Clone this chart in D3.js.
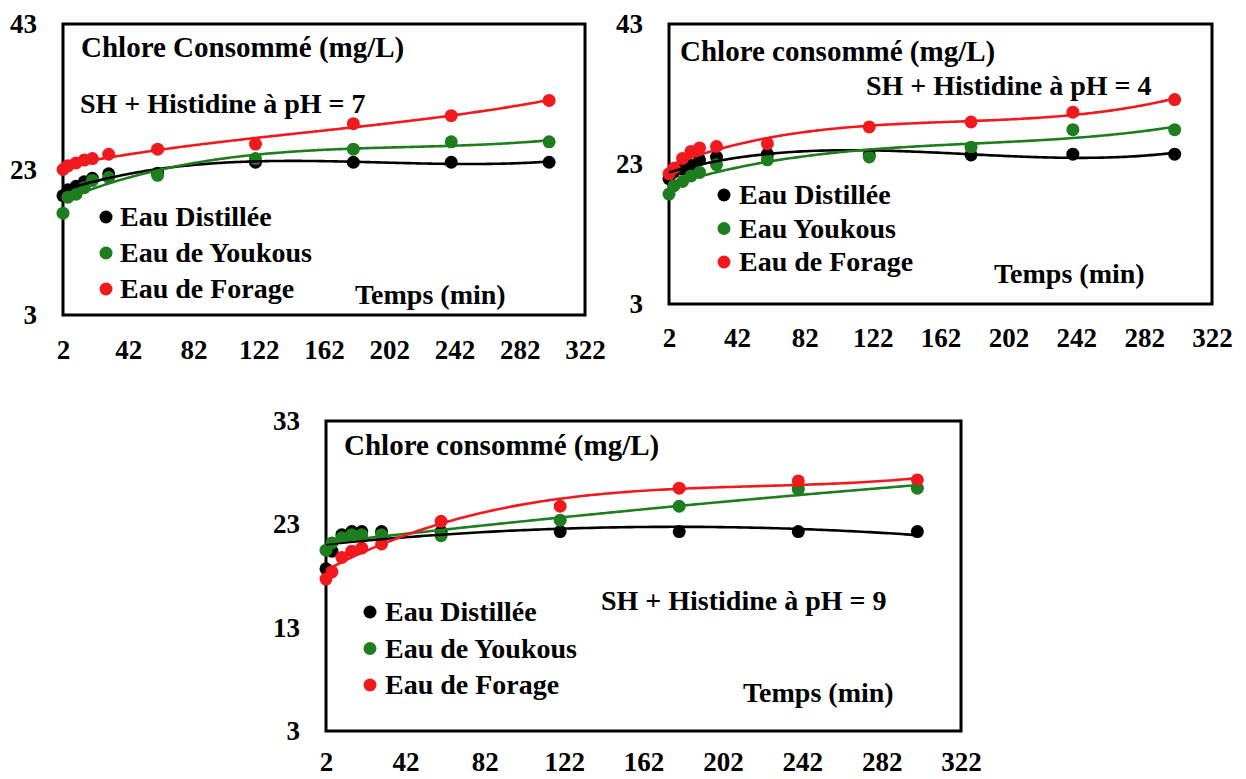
<!DOCTYPE html>
<html>
<head>
<meta charset="utf-8">
<script src="https://cdn.jsdelivr.net/npm/d3@7"></script>
<style>
body { margin: 0; background: #fff; }
svg text { font-family: "Liberation Serif", "Times New Roman", serif; font-weight: bold; fill: #000; }
.box { fill: none; stroke: #000; stroke-width: 3px; }
.trend { fill: none; stroke-width: 2.6px; }
</style>
</head>
<body>
<svg width="1246" height="779"></svg>
<script>

// time points (min)
var times = [2, 5, 10, 15, 20, 30, 60, 120, 180, 240, 300];

// chlore consommé (mg/L), pH = 7
var ph7Distillee = [19.4, 20.2, 20.7, 21.3, 21.8, 22.4, 22.5, 24.0, 24.0, 24.0, 24.0];
var ph7Youkous   = [17.0, 19.2, 19.6, 20.5, 21.5, 21.9, 22.2, 24.5, 25.8, 26.8, 26.8];
var ph7Forage    = [23.0, 23.5, 23.9, 24.3, 24.5, 25.1, 25.8, 26.5, 29.3, 30.4, 32.5];

// pH = 4
var ph4Distillee = [20.9, 21.9, 22.3, 22.8, 23.6, 24.0, 24.4, 24.3, 24.3, 24.4, 24.4];
var ph4Youkous   = [18.7, 19.9, 20.5, 21.3, 21.8, 22.9, 23.6, 24.0, 25.4, 27.9, 27.9];
var ph4Forage    = [21.6, 22.4, 23.8, 24.8, 25.3, 25.5, 25.9, 28.3, 29.0, 30.4, 32.2];

// pH = 9
var ph9Distillee = [18.7, 20.4, 22.0, 22.3, 22.3, 22.3, 22.3, 22.3, 22.3, 22.3, 22.3];
var ph9Youkous   = [20.5, 21.2, 21.7, 22.0, 22.0, 22.0, 21.9, 23.4, 24.75, 26.4, 26.5];
var ph9Forage    = [17.7, 18.4, 19.8, 20.4, 20.7, 21.1, 23.3, 24.75, 26.5, 27.2, 27.3];

var xTicks = [2, 42, 82, 122, 162, 202, 242, 282, 322];
var yTicksWide = [3, 23, 43];
var yTicksNarrow = [3, 13, 23, 33];

var colors = ["#000000", "#1e7d1e", "#f01a1e"];
var legend7 = ["Eau Distillée", "Eau de Youkous", "Eau de Forage"];
var legend4 = ["Eau Distillée", "Eau Youkous", "Eau de Forage"];
var legend9 = ["Eau Distillée", "Eau de Youkous", "Eau de Forage"];

var panels = [
  { series: [ph7Distillee, ph7Youkous, ph7Forage], legend: legend7, order: [3, 3, 3],
    title: "Chlore Consommé (mg/L)", sub: "SH + Histidine à pH = 7",
    x0: 63, x1: 585, y0: 24, y1: 315, yDomain: [3, 43], yTicks: yTicksWide, xPad: 25,
    titlePos: [81, 57], subPos: [80, 113], tempsPos: [355, 304],
    legDotX: 106, legTextX: 120, legY: [217, 253, 289] },
  { series: [ph4Distillee, ph4Youkous, ph4Forage], legend: legend4, order: [3, 3, 3],
    title: "Chlore consommé (mg/L)", sub: "SH + Histidine à pH = 4",
    x0: 669, x1: 1212, y0: 24, y1: 304, yDomain: [3, 43], yTicks: yTicksWide, xPad: 24,
    titlePos: [680, 61], subPos: [866, 95], tempsPos: [994, 283],
    legDotX: 724, legTextX: 739, legY: [195, 228.5, 262] },
  { series: [ph9Distillee, ph9Youkous, ph9Forage], legend: legend9, order: [2, 2, 3],
    title: "Chlore consommé (mg/L)", sub: "SH + Histidine à pH = 9",
    x0: 326, x1: 961, y0: 421, y1: 731, yDomain: [3, 33], yTicks: yTicksNarrow, xPad: 21,
    titlePos: [344, 455], subPos: [601, 610], tempsPos: [743, 702],
    legDotX: 370, legTextX: 385, legY: [612, 648.5, 685] }
];

// least squares polynomial trend line (like the spreadsheet trendline)
function polyFit(xs, ys, order) {
  var n = order + 1, A = [], b = [];
  for (var i = 0; i < n; i++) {
    A.push(new Array(n).fill(0)); b.push(0);
  }
  xs.forEach(function(xv, k) {
    var u = xv / 300;
    for (var i = 0; i < n; i++) {
      b[i] += Math.pow(u, i) * ys[k];
      for (var j = 0; j < n; j++) A[i][j] += Math.pow(u, i + j);
    }
  });
  for (var c = 0; c < n; c++) {
    var p = c;
    for (var r = c + 1; r < n; r++) if (Math.abs(A[r][c]) > Math.abs(A[p][c])) p = r;
    var t = A[c]; A[c] = A[p]; A[p] = t; t = b[c]; b[c] = b[p]; b[p] = t;
    for (var r2 = c + 1; r2 < n; r2++) {
      var f = A[r2][c] / A[c][c];
      for (var j2 = c; j2 < n; j2++) A[r2][j2] -= f * A[c][j2];
      b[r2] -= f * b[c];
    }
  }
  var coef = new Array(n).fill(0);
  for (var i2 = n - 1; i2 >= 0; i2--) {
    var s = b[i2];
    for (var j3 = i2 + 1; j3 < n; j3++) s -= A[i2][j3] * coef[j3];
    coef[i2] = s / A[i2][i2];
  }
  return function(xv) {
    var u = xv / 300, v = 0;
    for (var i = 0; i < n; i++) v += coef[i] * Math.pow(u, i);
    return v;
  };
}

var svg = d3.select("svg");
svg.append("rect").attr("width", 1246).attr("height", 779).attr("fill", "#fff");

var samples = d3.range(2, 300.01, 2);

panels.forEach(function(p) {
  var x = d3.scaleLinear().domain([2, 322]).range([p.x0, p.x1]);
  var y = d3.scaleLinear().domain(p.yDomain).range([p.y1, p.y0]);
  var g = svg.append("g");

  g.append("g")
      .attr("transform", "translate(0," + p.y1 + ")")
      .call(d3.axisBottom(x).tickValues(xTicks).tickSize(0).tickPadding(p.xPad))
      .call(function(a) { a.select(".domain").remove(); })
    .selectAll("text")
      .style("font-size", "27px");

  g.append("g")
      .attr("transform", "translate(" + p.x0 + ",0)")
      .call(d3.axisLeft(y).tickValues(p.yTicks).tickSize(0).tickPadding(26))
      .call(function(a) { a.select(".domain").remove(); })
    .selectAll("text")
      .style("font-size", "27px");

  g.append("rect").attr("class", "box")
      .attr("x", p.x0).attr("y", p.y0)
      .attr("width", p.x1 - p.x0).attr("height", p.y1 - p.y0);

  // markers
  p.series.forEach(function(vals, si) {
    g.append("g").selectAll("circle")
      .data(vals)
      .enter().append("circle")
        .attr("cx", function(d, i) { return x(times[i]); })
        .attr("cy", function(d) { return y(d); })
        .attr("r", 6.5)
        .attr("fill", colors[si]);
  });

  // trend lines
  p.series.forEach(function(vals, si) {
    var fit = polyFit(times, vals, p.order[si]);
    g.append("path").attr("class", "trend")
      .datum(samples)
      .attr("stroke", colors[si])
      .attr("d", d3.line()
        .x(function(t) { return x(t); })
        .y(function(t) { return y(fit(t)); })
        .curve(d3.curveMonotoneX));
  });

  g.append("text").attr("x", p.titlePos[0]).attr("y", p.titlePos[1])
      .style("font-size", "29px").text(p.title);
  g.append("text").attr("x", p.subPos[0]).attr("y", p.subPos[1])
      .style("font-size", "28px").text(p.sub);
  g.append("text").attr("x", p.tempsPos[0]).attr("y", p.tempsPos[1])
      .style("font-size", "28px").text("Temps (min)");

  p.legend.forEach(function(lab, i) {
    g.append("circle").attr("cx", p.legDotX).attr("cy", p.legY[i])
        .attr("r", 6.5).attr("fill", colors[i]);
    g.append("text").attr("x", p.legTextX).attr("y", p.legY[i] + 9)
        .style("font-size", "28px").text(lab);
  });
});

</script>
</body>
</html>
